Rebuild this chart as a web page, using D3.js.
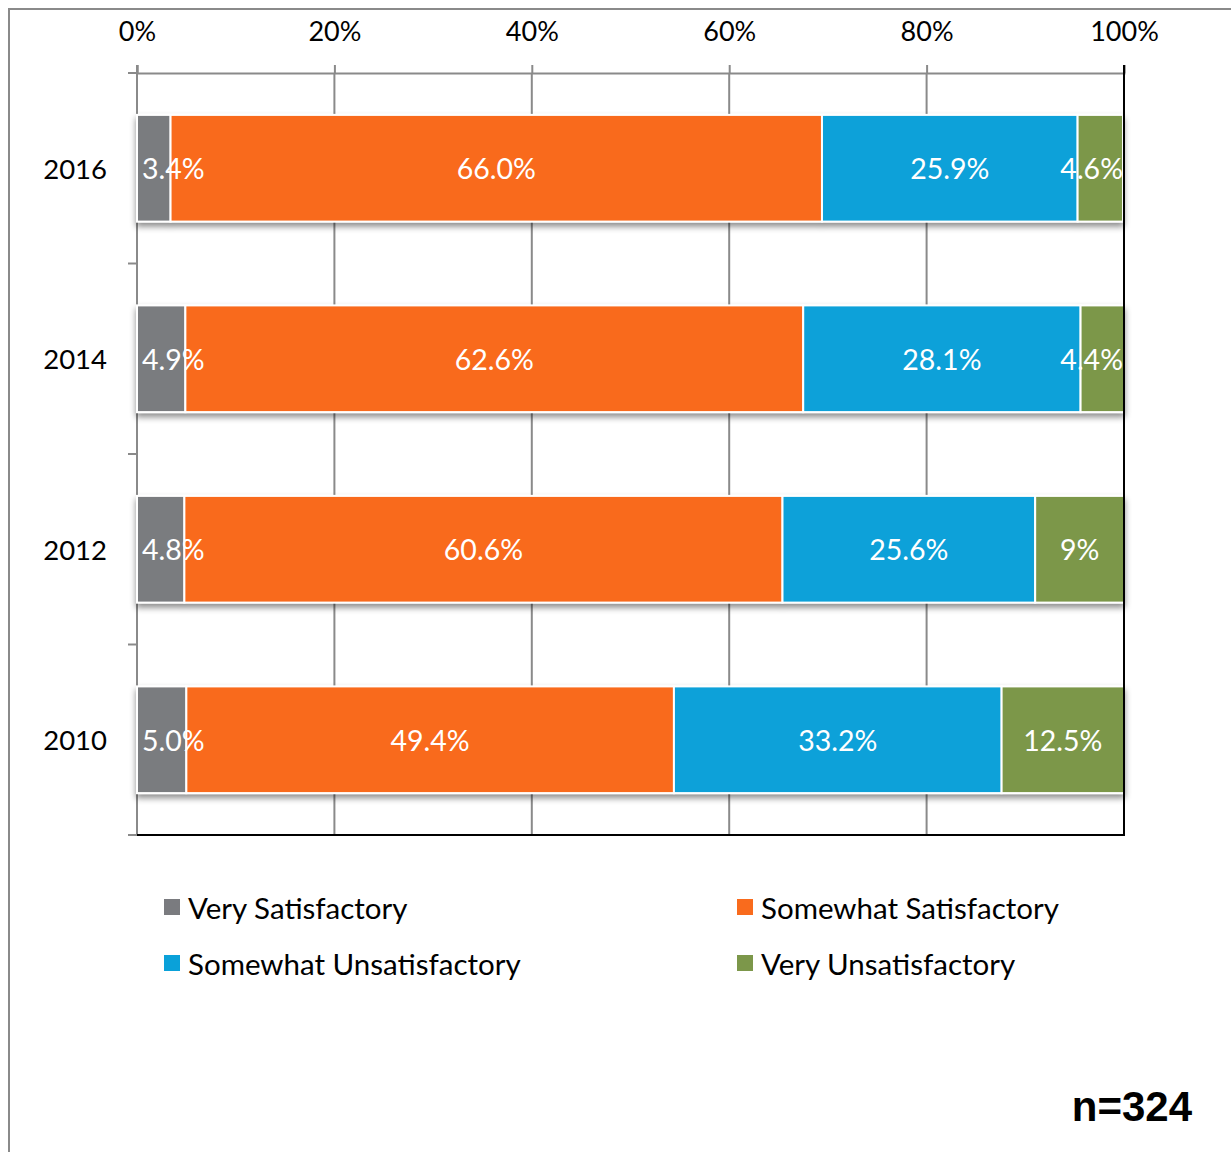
<!DOCTYPE html>
<html><head><meta charset="utf-8">
<script src="https://cdn.jsdelivr.net/npm/d3@7"></script>
<style>
html,body{margin:0;padding:0;background:#fff;}
svg{display:block;font-family:Lato,"Open Sans",sans-serif;}
</style></head>
<body>
<svg id="chart" width="1231" height="1152"></svg>
<script>
const years = ["2016", "2014", "2012", "2010"];
const seriesNames = ["Very Satisfactory", "Somewhat Satisfactory", "Somewhat Unsatisfactory", "Very Unsatisfactory"];
const seriesColors = ["#7a7b7f", "#f96b1d", "#0aa1d9", "#7c974a"];
const verySatisfactory = [3.4, 4.9, 4.8, 5.0];
const somewhatSatisfactory = [66.0, 62.6, 60.6, 49.4];
const somewhatUnsatisfactory = [25.9, 28.1, 25.6, 33.2];
const veryUnsatisfactory = [4.6, 4.4, 9, 12.5];
const valueLabels = [
  ["3.4%", "4.9%", "4.8%", "5.0%"],
  ["66.0%", "62.6%", "60.6%", "49.4%"],
  ["25.9%", "28.1%", "25.6%", "33.2%"],
  ["4.6%", "4.4%", "9%", "12.5%"]
];
const tickValues = [0, 20, 40, 60, 80, 100];
const sampleNote = "n=324";

const series = [verySatisfactory, somewhatSatisfactory, somewhatUnsatisfactory, veryUnsatisfactory];
const svg = d3.select("#chart");

// outer frame
svg.append("path").attr("d", "M9,1152 V9 H1231").attr("fill", "none").attr("stroke", "#8a8a8a").attr("stroke-width", 2);

const pL = 137, pR = 1124, pT = 73, pB = 835;
const x = d3.scaleLinear().domain([0, 100]).range([pL, pR]);
const y = d3.scaleBand().domain(years).range([pT, pB]).paddingInner(0.44).paddingOuter(0.22);

const defs = svg.append("defs");
const f = defs.append("filter").attr("id", "shadow").attr("x", "-5%").attr("y", "-20%").attr("width", "110%").attr("height", "150%");
f.append("feDropShadow").attr("dx", 0).attr("dy", 4).attr("stdDeviation", 3).attr("flood-color", "#000").attr("flood-opacity", 0.45);
defs.append("clipPath").attr("id", "plotclip").append("rect").attr("x", pL).attr("y", pT).attr("width", pR - pL + 4).attr("height", pB - pT);

// gridlines
svg.append("g").selectAll("line").data(tickValues.filter(v => v > 0 && v < 100)).join("line")
  .attr("x1", d => x(d)).attr("x2", d => x(d)).attr("y1", pT).attr("y2", pB)
  .attr("stroke", "#8a8a8a").attr("stroke-width", 2);

// top axis
const xAxis = svg.append("g").attr("transform", `translate(0,${pT})`)
  .call(d3.axisTop(x).tickValues(tickValues).tickFormat(d => d + "%").tickSize(8).tickPadding(24));
xAxis.select(".domain").attr("stroke", "#8a8a8a").attr("stroke-width", 2);
xAxis.selectAll(".tick line").attr("stroke", "#8a8a8a").attr("stroke-width", 2);
xAxis.selectAll(".tick text").attr("font-size", 27).attr("fill", "#000").attr("font-family", "Lato");

// left axis with boundary ticks
const yAxisG = svg.append("g");
yAxisG.append("line").attr("x1", pL).attr("x2", pL).attr("y1", pT - 8).attr("y2", pB)
  .attr("stroke", "#8a8a8a").attr("stroke-width", 2);
const bounds = years.map(yy => y(yy) - y.step() * 0.22).concat([pB]);
yAxisG.selectAll("line.tk").data(bounds).join("line").attr("class", "tk")
  .attr("x1", pL - 9).attr("x2", pL).attr("y1", d => d).attr("y2", d => d)
  .attr("stroke", "#8a8a8a").attr("stroke-width", 2);
yAxisG.selectAll("text").data(years).join("text")
  .attr("x", 107).attr("y", d => y(d) + y.bandwidth() / 2)
  .attr("text-anchor", "end").attr("dominant-baseline", "central")
  .attr("font-size", 27.5).attr("fill", "#000").text(d => d);

// bars
const stacks = years.map((yy, i) => {
  let acc = 0;
  return series.map((s, k) => { const r = { year: yy, k, x0: acc, x1: acc + s[i], label: valueLabels[k][i] }; acc += s[i]; return r; });
});
const flat = stacks.flat();
const barG = svg.append("g");
years.forEach((yy, i) => {
  const g = barG.append("g").attr("filter", "url(#shadow)");
  g.selectAll("rect").data(stacks[i]).join("rect")
    .attr("x", d => x(d.x0)).attr("y", y(yy))
    .attr("width", d => Math.min(x(d.x1), pR) - x(d.x0)).attr("height", y.bandwidth())
    .attr("fill", d => seriesColors[d.k]).attr("stroke", "#fff").attr("stroke-width", 2);
});

// right & bottom black borders
svg.append("line").attr("x1", pR).attr("x2", pR).attr("y1", pT - 8).attr("y2", pB + 1).attr("stroke", "#000").attr("stroke-width", 2);
svg.append("line").attr("x1", pL).attr("x2", pR + 1).attr("y1", pB).attr("y2", pB).attr("stroke", "#000").attr("stroke-width", 2);

// labels
const labG = svg.append("g").attr("clip-path", "url(#plotclip)");
labG.selectAll("text").data(flat).join("text")
  .attr("y", d => y(d.year) + y.bandwidth() / 2)
  .attr("dominant-baseline", "central").attr("text-anchor", "middle")
  .attr("font-size", 28.5).attr("fill", "#fff").text(d => d.label)
  .each(function(d) {
    const w = this.getComputedTextLength();
    let cx = (x(d.x0) + Math.min(x(d.x1), pR)) / 2;
    if (cx - w / 2 < pL + 5) cx = pL + 5 + w / 2;
    if (cx + w / 2 > pR - 1) cx = pR - 1 - w / 2;
    d3.select(this).attr("x", cx);
  });

// legend
const legendPos = [[164, 907], [737, 907], [164, 963], [737, 963]];
const lg = svg.append("g");
seriesNames.forEach((n, k) => {
  const [lx, ly] = legendPos[k];
  lg.append("rect").attr("x", lx).attr("y", ly - 8).attr("width", 16).attr("height", 16).attr("fill", seriesColors[k]);
  lg.append("text").attr("x", lx + 24).attr("y", ly).attr("dominant-baseline", "central")
    .attr("font-size", 29.5).attr("fill", "#000").text(n);
});

svg.append("text").attr("x", 1192).attr("y", 1121).attr("text-anchor", "end")
  .attr("font-family", "'Liberation Sans',Arial,sans-serif")
  .attr("font-weight", "bold").attr("font-size", 42).attr("fill", "#000").text(sampleNote);
</script>
</body></html>
